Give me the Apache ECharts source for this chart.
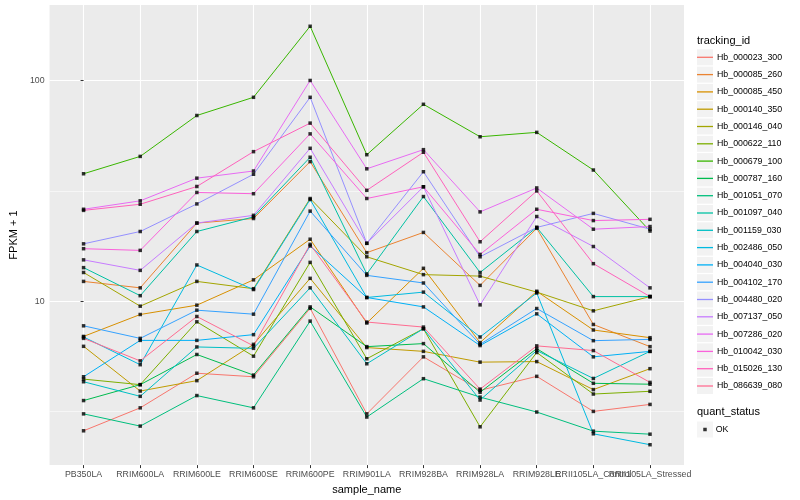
<!DOCTYPE html>
<html><head><meta charset="utf-8">
<script src="https://cdn.jsdelivr.net/npm/echarts@6/dist/echarts.min.js"></script>
<style>html,body{margin:0;padding:0;background:#fff}#c{width:800px;height:500px}</style>
</head><body><div id="c"></div>
<script>
const categories = ['PB350LA','RRIM600LA','RRIM600LE','RRIM600SE','RRIM600PE','RRIM901LA','RRIM928BA','RRIM928LA','RRIM928LE','RRII105LA_Control','RRII105LA_Stressed'];
const trackingIds = ['Hb_000023_300','Hb_000085_260','Hb_000085_450','Hb_000140_350','Hb_000146_040','Hb_000622_110','Hb_000679_100','Hb_000787_160','Hb_001051_070','Hb_001097_040','Hb_001159_030','Hb_002486_050','Hb_004040_030','Hb_004102_170','Hb_004480_020','Hb_007137_050','Hb_007286_020','Hb_010042_030','Hb_015026_130','Hb_086639_080'];
const yTickLabels = [10, 100];
const yMinorBreaks = [3.1623, 31.623];
const yRange = [1.811, 219.7];
const quantStatus = ['OK'];

const Hb_000023_300 = [2.59, 3.29, 4.72, 4.55, 9.29, 3.09, 5.60, 3.95, 4.57, 3.17, 3.41];
const Hb_000085_260 = [12.3, 11.5, 22.6, 23.7, 42.9, 16.6, 20.5, 11.8, 21.4, 7.85, 6.23];
const Hb_000085_450 = [6.93, 8.71, 9.60, 12.5, 19.1, 7.97, 14.1, 6.50, 11.1, 7.41, 6.84];
const Hb_000140_350 = [6.25, 3.92, 4.37, 6.38, 12.7, 6.17, 5.93, 5.30, 5.33, 3.98, 4.95];
const Hb_000146_040 = [13.5, 9.50, 12.3, 11.4, 29.2, 15.9, 13.2, 13.0, 11.0, 9.05, 10.5];
const Hb_000622_110 = [4.44, 4.19, 8.07, 5.64, 15.0, 5.49, 7.51, 2.70, 5.86, 3.80, 3.91];
const Hb_000679_100 = [37.8, 45.3, 69.4, 83.9, 176, 46.1, 78.0, 55.6, 58.2, 39.3, 20.8];
const Hb_000787_160 = [3.55, 4.19, 5.74, 4.63, 9.43, 6.23, 6.43, 3.87, 6.10, 4.25, 4.21];
const Hb_001051_070 = [3.09, 2.72, 3.74, 3.29, 8.13, 2.99, 4.46, 3.68, 3.15, 2.58, 2.50];
const Hb_001097_040 = [14.2, 10.6, 20.7, 24.1, 44.9, 13.3, 29.8, 13.5, 21.6, 10.5, 10.5];
const Hb_001159_030 = [4.32, 3.71, 6.21, 6.12, 11.5, 5.21, 7.51, 3.57, 5.98, 4.47, 5.93];
const Hb_002486_050 = [6.89, 5.16, 14.6, 11.3, 28.9, 10.4, 11.0, 6.89, 10.9, 2.51, 2.24];
const Hb_004040_030 = [4.55, 6.65, 6.65, 7.06, 17.8, 10.4, 9.43, 6.30, 8.77, 5.60, 5.93];
const Hb_004102_170 = [7.74, 6.79, 9.11, 8.74, 25.6, 13.1, 12.1, 6.38, 9.27, 6.63, 6.72];
const Hb_004480_020 = [18.2, 20.7, 27.6, 37.6, 83.9, 18.3, 38.6, 15.9, 21.6, 25.0, 21.2];
const Hb_007137_050 = [15.4, 13.8, 22.6, 24.5, 49.3, 18.3, 33.0, 9.63, 24.2, 17.7, 11.5];
const Hb_007286_020 = [26.1, 28.5, 36.1, 38.9, 100, 39.8, 48.6, 25.4, 32.6, 21.2, 21.8];
const Hb_010042_030 = [17.3, 17.0, 31.1, 30.7, 57.3, 29.2, 33.0, 16.3, 26.1, 23.2, 23.5];
const Hb_015026_130 = [25.8, 27.5, 33.1, 47.6, 64.1, 31.8, 47.3, 18.6, 31.6, 14.8, 10.5];
const Hb_086639_080 = [6.79, 5.37, 8.53, 6.28, 18.1, 8.05, 7.64, 4.00, 6.28, 5.98, 4.29];

const seriesValues = [Hb_000023_300, Hb_000085_260, Hb_000085_450, Hb_000140_350, Hb_000146_040, Hb_000622_110, Hb_000679_100, Hb_000787_160, Hb_001051_070, Hb_001097_040, Hb_001159_030, Hb_002486_050, Hb_004040_030, Hb_004102_170, Hb_004480_020, Hb_007137_050, Hb_007286_020, Hb_010042_030, Hb_015026_130, Hb_086639_080];

const palette = ['#F8766D','#EA8331','#D89000','#C09B00','#A3A500','#7CAE00','#39B600','#00BB4E','#00BF7D','#00C1A3','#00BFC4','#00BAE0','#00B0F6','#35A2FF','#9590FF','#C77CFF','#E76BF3','#FA62DB','#FF62BC','#FF6C91'];
const font = 'Liberation Sans, Arial, Helvetica, sans-serif';
const catIdx = categories.map((_, i) => i);
// labels split over two axes so the overlapping last two both stay visible, as in the reference
const labelSetA = catIdx.filter(i => i % 2 === 0);
const labelSetB = catIdx.filter(i => i % 2 === 1);
const lg = Math.log10;

const chart = echarts.init(document.getElementById('c'), null, {renderer: 'canvas'});

const lineSeries = trackingIds.map((id, k) => ({
  name: id, type: 'line', xAxisIndex: 0, yAxisIndex: 0,
  data: seriesValues[k].map((v, i) => [i, v]),
  showSymbol: false, symbol: 'none', color: palette[k],
  lineStyle: {width: 1, color: palette[k]}, z: 2, silent: true
}));

const points = [];
seriesValues.forEach(arr => arr.forEach((v, i) => points.push([i, v])));

const xLabelStyle = {formatter: v => categories[Math.round(v)], showMinLabel: true, showMaxLabel: true, hideOverlap: false,
                     fontFamily: font, fontSize: 8.8, color: '#4D4D4D', margin: 5};

const option = {
  animation: false,
  backgroundColor: '#ffffff',
  textStyle: {fontFamily: font},
  grid: {left: 40, top: 5, width: 644, height: 463.3, show: true, backgroundColor: '#EBEBEB', borderWidth: 0, containLabel: false},
  title: [
    {text: 'tracking_id', left: 697, top: 35, padding: 0, textStyle: {fontFamily: font, fontSize: 11, fontWeight: 'normal', color: '#000'}},
    {text: 'quant_status', left: 697, top: 406, padding: 0, textStyle: {fontFamily: font, fontSize: 11, fontWeight: 'normal', color: '#000'}}
  ],
  legend: [
    {data: trackingIds, orient: 'vertical', left: 697, top: 49.3, padding: 0, itemGap: 1.3, itemWidth: 16, itemHeight: 16, icon: 'rect',
     selectedMode: false, z: 3, itemStyle: {color: '#F2F2F2', borderWidth: 0},
     textStyle: {fontFamily: font, fontSize: 8.8, lineHeight: 16, color: 'rgba(0,0,0,0)'}},
    {data: trackingIds, orient: 'vertical', left: 697, top: 48.65, padding: 0, itemGap: 0, itemWidth: 16, itemHeight: 1.3, icon: 'rect',
     selectedMode: false, z: 4,
     textStyle: {fontFamily: font, fontSize: 8.8, lineHeight: 17.3, color: '#000', padding: [0, 0, 0, -1]}},
    {data: quantStatus, orient: 'vertical', left: 697, top: 421.5, padding: 0, itemWidth: 16, itemHeight: 16, icon: 'rect',
     selectedMode: false, z: 3, itemStyle: {color: '#F2F2F2', borderWidth: 0},
     textStyle: {fontFamily: font, fontSize: 8.8, lineHeight: 16, color: 'rgba(0,0,0,0)'}},
    {data: quantStatus, orient: 'vertical', left: 703.25, top: 421.5, padding: 0, itemWidth: 3.5, itemHeight: 3.5, icon: 'rect',
     selectedMode: false, z: 4,
     textStyle: {fontFamily: font, fontSize: 8.8, lineHeight: 16, color: '#000', padding: [0, 0, 0, 4]}}
  ],
  xAxis: [
    {type: 'value', min: -0.6, max: 10.6, position: 'bottom', offset: 0,
     name: 'sample_name', nameLocation: 'middle', nameGap: 14.5,
     nameTextStyle: {fontFamily: font, fontSize: 11, color: '#000'},
     axisLine: {show: false},
     axisTick: {show: true, length: 3, customValues: catIdx, lineStyle: {color: '#333333', width: 1}},
     axisLabel: Object.assign({customValues: labelSetA}, xLabelStyle),
     splitLine: {show: true, lineStyle: {color: '#ffffff', width: 1.1}}},
    {type: 'value', min: -0.6, max: 10.6, position: 'bottom', offset: 0,
     axisLine: {show: false},
     axisTick: {show: false, customValues: labelSetB},
     axisLabel: Object.assign({customValues: labelSetB}, xLabelStyle),
     splitLine: {show: false}}
  ],
  yAxis: [
    {type: 'log', logBase: 10, min: yRange[0], max: yRange[1], show: false, splitLine: {show: false}},
    {type: 'value', min: lg(yRange[0]), max: lg(yRange[1]), position: 'left',
     name: 'FPKM + 1', nameLocation: 'middle', nameGap: 23,
     nameTextStyle: {fontFamily: font, fontSize: 11, color: '#000'},
     axisLine: {show: false},
     axisTick: {show: true, length: 3, customValues: yTickLabels.map(lg), lineStyle: {color: '#333333', width: 1}},
     axisLabel: {customValues: yTickLabels.map(lg), formatter: v => String(Math.round(Math.pow(10, v))),
                 fontFamily: font, fontSize: 8.8, color: '#4D4D4D', margin: 5},
     splitLine: {show: true, lineStyle: {color: '#ffffff', width: 1.1}}},
    {type: 'value', min: lg(yRange[0]), max: lg(yRange[1]), position: 'left',
     axisLine: {show: false},
     axisTick: {show: false, customValues: yMinorBreaks.map(lg)},
     axisLabel: {show: false, customValues: yMinorBreaks.map(lg)},
     splitLine: {show: true, lineStyle: {color: '#ffffff', width: 0.55}}}
  ],
  series: lineSeries.concat([{
    name: 'OK', type: 'scatter', xAxisIndex: 0, yAxisIndex: 0, data: points, symbol: 'rect', symbolSize: 3.5,
    color: '#000000', itemStyle: {color: '#000000'}, z: 3, silent: true
  }])
};
chart.setOption(option);
</script>
</body></html>
